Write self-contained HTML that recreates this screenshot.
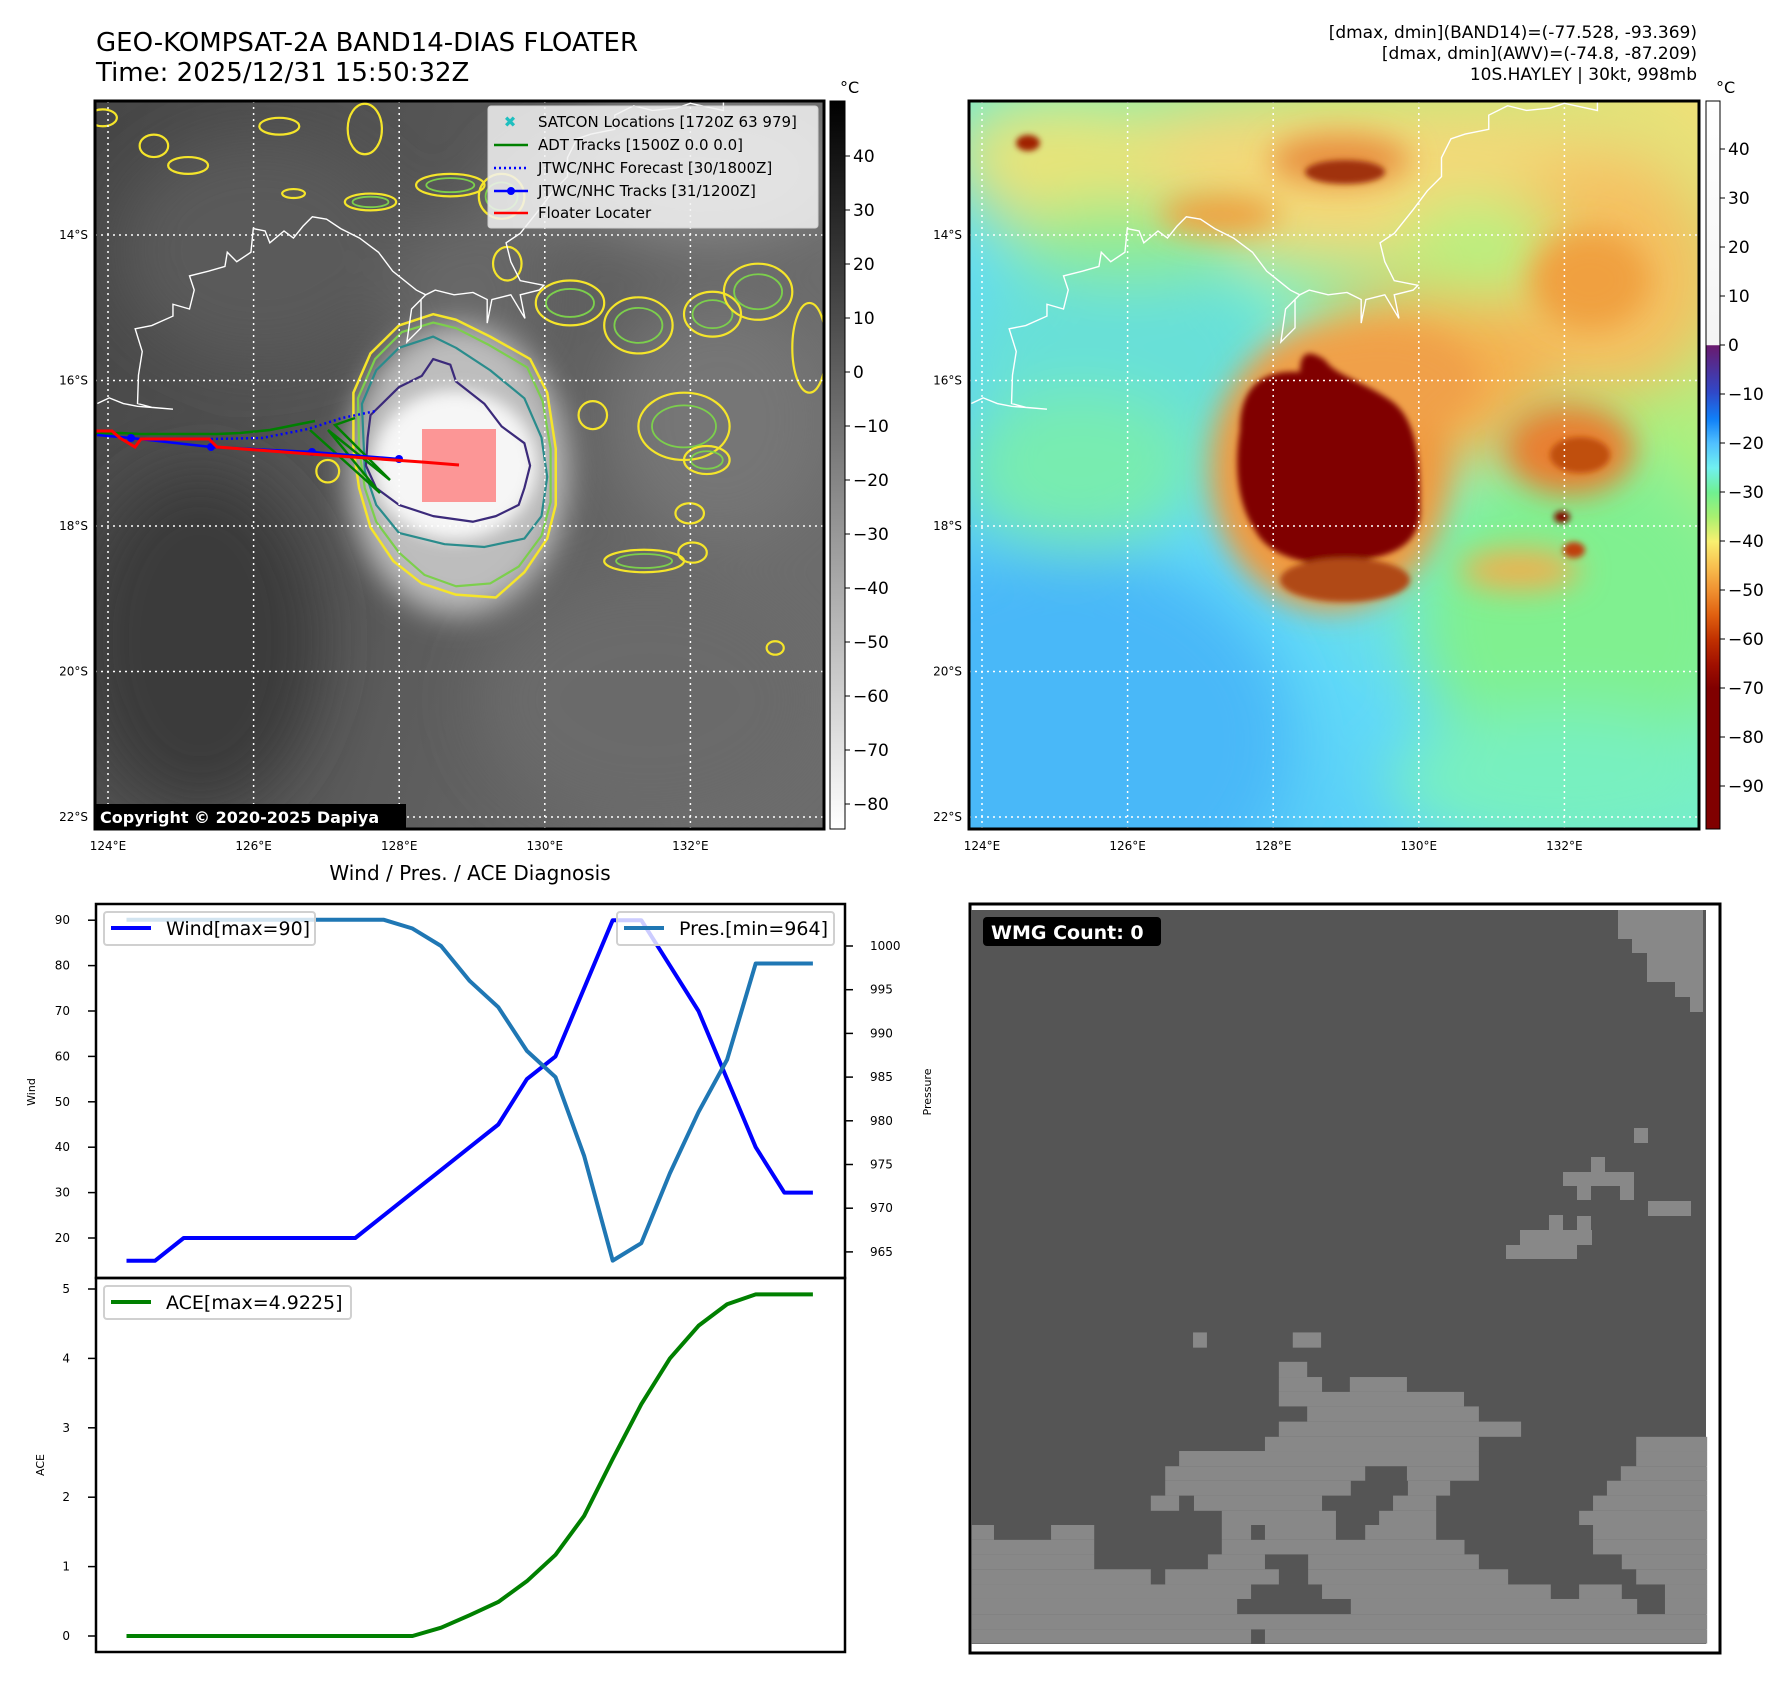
<!DOCTYPE html>
<html><head><meta charset="utf-8">
<style>
html,body{margin:0;padding:0;background:#fff;}
#root{position:relative;width:1788px;height:1690px;overflow:hidden;font-family:"DejaVu Sans","Liberation Sans",sans-serif;}
svg text{font-family:"DejaVu Sans","Liberation Sans",sans-serif;}
</style></head>
<body>
<div id="root">
<svg id="svg" width="1788" height="1690" viewBox="0 0 1788 1690" xmlns="http://www.w3.org/2000/svg">
<defs>
  <filter id="b30" x="-50%" y="-50%" width="200%" height="200%"><feGaussianBlur stdDeviation="30"/></filter>
  <filter id="b15" x="-50%" y="-50%" width="200%" height="200%"><feGaussianBlur stdDeviation="15"/></filter>
  <filter id="b8" x="-50%" y="-50%" width="200%" height="200%"><feGaussianBlur stdDeviation="8"/></filter>
  <filter id="b3" x="-50%" y="-50%" width="200%" height="200%"><feGaussianBlur stdDeviation="3"/></filter>
  <clipPath id="clip1"><rect x="95" y="101" width="729" height="728"/></clipPath>
  <clipPath id="clip2"><rect x="969" y="101" width="730" height="728"/></clipPath>
  <linearGradient id="g1base" x1="0" y1="0" x2="1" y2="0.3">
    <stop offset="0" stop-color="#464646"/><stop offset="0.5" stop-color="#575757"/><stop offset="1" stop-color="#6c6c6c"/>
  </linearGradient>
  <linearGradient id="cbar1" x1="0" y1="0" x2="0" y2="1">
    <stop offset="0" stop-color="#000"/><stop offset="1" stop-color="#fff"/>
  </linearGradient>
  <linearGradient id="cbar2" x1="0" y1="0" x2="0" y2="1">
    <stop offset="0" stop-color="#ffffff"/><stop offset="0.335" stop-color="#f4f4f4"/>
    <stop offset="0.336" stop-color="#6a1a6e"/><stop offset="0.40" stop-color="#3048c8"/>
    <stop offset="0.437" stop-color="#1080f8"/><stop offset="0.47" stop-color="#50c0ff"/>
    <stop offset="0.504" stop-color="#70f0f0"/><stop offset="0.538" stop-color="#70f090"/>
    <stop offset="0.571" stop-color="#a8f070"/><stop offset="0.605" stop-color="#f8f070"/>
    <stop offset="0.639" stop-color="#f8c050"/><stop offset="0.673" stop-color="#f09030"/>
    <stop offset="0.706" stop-color="#e06010"/><stop offset="0.74" stop-color="#c03000"/>
    <stop offset="0.774" stop-color="#a01000"/><stop offset="0.807" stop-color="#800000"/>
    <stop offset="1" stop-color="#800000"/>
  </linearGradient>
  <linearGradient id="g2base" x1="0" y1="1" x2="1" y2="0">
    <stop offset="0" stop-color="#48b8f8"/><stop offset="0.35" stop-color="#60d8f8"/>
    <stop offset="0.55" stop-color="#78f0c8"/><stop offset="0.75" stop-color="#a8f080"/>
    <stop offset="1" stop-color="#f0e078"/>
  </linearGradient>
</defs>

<text x="96" y="51" font-size="26" fill="#000">GEO-KOMPSAT-2A BAND14-DIAS FLOATER</text>
<text x="96" y="81" font-size="26" fill="#000">Time: 2025/12/31 15:50:32Z</text>
<g font-size="17" text-anchor="end" fill="#000">
  <text x="1697" y="38">[dmax, dmin](BAND14)=(-77.528, -93.369)</text>
  <text x="1697" y="59">[dmax, dmin](AWV)=(-74.8, -87.209)</text>
  <text x="1697" y="80">10S.HAYLEY | 30kt, 998mb</text>
</g>

<g clip-path="url(#clip1)">
  <rect x="95" y="101" width="729" height="728" fill="url(#g1base)"/>
  <g filter="url(#b30)">
    <ellipse cx="200" cy="640" rx="120" ry="170" fill="#3a3a3a"/>
    <ellipse cx="260" cy="250" rx="140" ry="110" fill="#5a5a5a"/>
    <ellipse cx="700" cy="170" rx="140" ry="70" fill="#8a8a8a"/>
    <ellipse cx="720" cy="420" rx="110" ry="120" fill="#767676"/>
    <ellipse cx="650" cy="700" rx="170" ry="120" fill="#6a6a6a"/>
    <ellipse cx="470" cy="300" rx="80" ry="90" fill="#686868"/>
    <ellipse cx="560" cy="190" rx="60" ry="40" fill="#7a7a7a"/>
  </g>
  <g filter="url(#b15)">
    <ellipse cx="458" cy="470" rx="110" ry="145" fill="#bdbdbd"/>
  </g>
  <g filter="url(#b8)">
    <ellipse cx="455" cy="465" rx="82" ry="75" fill="#f6f6f6"/>
  </g>
  <g id="contours1" fill="none" stroke-width="2.2"></g>
  <g id="coast1" fill="none" stroke="#fff" stroke-width="1.4"></g>
  <rect x="422" y="429" width="74" height="73" fill="#ff6e6e" opacity="0.7"/>
  <g id="grid1" stroke="#fff" stroke-width="1.5" stroke-dasharray="2,4"></g>
  <g id="tracks1"></g>
</g>
<rect x="95" y="101" width="729" height="728" fill="none" stroke="#000" stroke-width="3"/>
<g id="axlab1" font-size="12" fill="#000"></g>

<g>
  <rect x="488" y="106" width="330" height="122" rx="3" fill="#f2f2f2" fill-opacity="0.85" stroke="#d0d0d0"/>
  <text x="510" y="127" font-size="15" fill="#1fbfbf" font-weight="bold" text-anchor="middle">✖</text>
  <text x="538" y="127" font-size="15">SATCON Locations [1720Z 63 979]</text>
  <line x1="494" y1="145" x2="528" y2="145" stroke="#008000" stroke-width="2.5"/>
  <text x="538" y="150" font-size="15">ADT Tracks [1500Z 0.0 0.0]</text>
  <line x1="494" y1="168" x2="528" y2="168" stroke="#0000ff" stroke-width="2.5" stroke-dasharray="2,3"/>
  <text x="538" y="173" font-size="15">JTWC/NHC Forecast [30/1800Z]</text>
  <line x1="494" y1="191" x2="528" y2="191" stroke="#0000ff" stroke-width="2.5"/><circle cx="511" cy="191" r="4" fill="#0000ff"/>
  <text x="538" y="196" font-size="15">JTWC/NHC Tracks [31/1200Z]</text>
  <line x1="494" y1="213" x2="528" y2="213" stroke="#ff0000" stroke-width="2.5"/>
  <text x="538" y="218" font-size="15">Floater Locater</text>
</g>
<g>
  <rect x="96" y="804" width="310" height="25" fill="#000"/>
  <text x="100" y="823" font-size="16" font-weight="bold" fill="#fff">Copyright © 2020-2025 Dapiya</text>
</g>

<rect x="830" y="101" width="15" height="728" fill="url(#cbar1)" stroke="#000" stroke-width="1"/>
<text x="840" y="93" font-size="16">°C</text>
<g id="cb1ticks" font-size="17"></g>

<g clip-path="url(#clip2)">
  <rect x="969" y="101" width="730" height="728" fill="url(#g2base)"/>
  <g filter="url(#b30)">
    <ellipse cx="1060" cy="740" rx="230" ry="190" fill="#48b8f8"/>
    <ellipse cx="1120" cy="360" rx="160" ry="110" fill="#68e0d8"/>
    <ellipse cx="1080" cy="470" rx="120" ry="80" fill="#78ecb0"/>
    <ellipse cx="1580" cy="620" rx="160" ry="160" fill="#80f090"/>
    <ellipse cx="1560" cy="780" rx="170" ry="70" fill="#78f0c0"/>
    <ellipse cx="1330" cy="180" rx="360" ry="80" fill="#f4d878"/>
    <ellipse cx="1600" cy="280" rx="120" ry="120" fill="#f4c060"/>
    <ellipse cx="1060" cy="150" rx="110" ry="50" fill="#e8e478"/>
    <ellipse cx="1130" cy="240" rx="120" ry="40" fill="#90ec90"/>
    <ellipse cx="1420" cy="380" rx="130" ry="90" fill="#f4b050"/>
    <ellipse cx="1480" cy="250" rx="80" ry="50" fill="#b8f080"/>
  </g>
  <g filter="url(#b15)">
    <ellipse cx="1340" cy="160" rx="70" ry="25" fill="#e89040"/>
    <ellipse cx="1220" cy="215" rx="60" ry="20" fill="#f0a040"/>
    <ellipse cx="1590" cy="280" rx="60" ry="50" fill="#f0a040"/>
    <ellipse cx="1570" cy="450" rx="65" ry="45" fill="#e88030"/>
    <ellipse cx="1330" cy="470" rx="120" ry="140" fill="#f09a40"/>
    <ellipse cx="1380" cy="380" rx="100" ry="55" fill="#f0a048"/>
    <ellipse cx="1520" cy="570" rx="60" ry="20" fill="#f0b050"/>
  </g>
  <g filter="url(#b3)">
    <ellipse cx="1345" cy="172" rx="40" ry="12" fill="#a03010"/>
    <ellipse cx="1028" cy="143" rx="12" ry="8" fill="#a02000"/>
    <path d="M1240,430 C1240,380 1270,370 1300,372 C1300,350 1310,350 1325,360 C1335,375 1360,380 1390,400 C1420,420 1420,470 1420,510 C1420,540 1400,555 1360,560 C1320,570 1270,560 1255,530 C1235,500 1235,460 1240,430 Z" fill="#800000"/>
    <ellipse cx="1345" cy="580" rx="65" ry="22" fill="#b04818"/>
    <ellipse cx="1580" cy="455" rx="30" ry="18" fill="#c05010"/>
    <ellipse cx="1562" cy="517" rx="8" ry="6" fill="#801000"/>
    <ellipse cx="1574" cy="550" rx="11" ry="8" fill="#c04010"/>
  </g>
  <g id="coast2" fill="none" stroke="#fff" stroke-width="1.4"></g>
  <g id="grid2" stroke="#fff" stroke-width="1.5" stroke-dasharray="2,4"></g>
</g>
<rect x="969" y="101" width="730" height="728" fill="none" stroke="#000" stroke-width="3"/>
<g id="axlab2" font-size="12" fill="#000"></g>
<rect x="1706" y="101" width="14" height="728" fill="url(#cbar2)" stroke="#000" stroke-width="1"/>
<text x="1716" y="93" font-size="16">°C</text>
<g id="cb2ticks" font-size="17"></g>

<text x="470" y="880" font-size="20" text-anchor="middle">Wind / Pres. / ACE Diagnosis</text>
<g id="chart"></g>

<g>
  <rect x="970" y="904" width="750" height="749" fill="#fff" stroke="#000" stroke-width="3"/>
  <rect x="971" y="910" width="735" height="734" fill="#555555"/>
  <g id="wmg" fill="#888888"></g>
  <rect x="983" y="917" width="178" height="29" rx="4" fill="#000"/>
  <text x="991" y="939" font-size="19" font-weight="bold" fill="#fff">WMG Count: 0</text>
</g>
</svg>
</div>

<script>
const windValues = [15,15,20,20,20,20,20,20,20,25,30,35,40,45,55,60,75,90,90,80,70,55,40,30,30];
const presValues = [1003,1003,1003,1003,1003,1003,1003,1003,1003,1003,1002,1000,996,993,988,985,976,964,966,974,981,987,998,998,998];
const aceValues = [0,0,0,0,0,0,0,0,0,0,0,0.12,0.3,0.49,0.79,1.17,1.73,2.55,3.34,4.0,4.47,4.78,4.9225,4.9225,4.9225];
const windTicks = [20,30,40,50,60,70,80,90];
const presTicks = [965,970,975,980,985,990,995,1000];
const aceTicks = [0,1,2,3,4,5];
const cb1Ticks = [40,30,20,10,0,-10,-20,-30,-40,-50,-60,-70,-80];
const cb2Ticks = [40,30,20,10,0,-10,-20,-30,-40,-50,-60,-70,-80,-90];
const latTicks = [14,16,18,20,22];
const lonTicks = [124,126,128,130,132];

const NS='http://www.w3.org/2000/svg';
function mk(tag, attrs, parent){const e=document.createElementNS(NS,tag);for(const k in attrs)e.setAttribute(k,attrs[k]);parent.appendChild(e);return e;}

const xIdx = i => 126.5 + i*28.6;
const yWind = v => 1238 - (v-20)*4.54;
const yPres = v => 946 - (v-1000)*8.74;
const yAce = v => 1636 - v*69.4;
const yCb1 = v => 156 + (40-v)*5.4;
const yCb2 = v => 345 - v*4.9;
const latY = l => 235 + (l-14)*72.75;
const lonX = l => 108 + (l-124)*72.8;

const chart=document.getElementById('chart');
let f1=mk('rect',{x:96,y:904,width:749,height:374,fill:'none',stroke:'#000','stroke-width':2.5},chart);


let f2=mk('rect',{x:96,y:1278,width:749,height:374,fill:'none',stroke:'#000','stroke-width':2.5},chart);



windTicks.forEach(v=>{
  const y=yWind(v);
  mk('line',{x1:88,x2:96,y1:y,y2:y,stroke:'#000','stroke-width':1.5},chart);
  const t=mk('text',{x:70,y:y+4,'font-size':12,'text-anchor':'end'},chart);t.textContent=v;
  
  
});
presTicks.forEach(v=>{
  const y=yPres(v);
  mk('line',{x1:845,x2:853,y1:y,y2:y,stroke:'#000','stroke-width':1.5},chart);
  const t=mk('text',{x:870,y:y+4,'font-size':12},chart);t.textContent=v;
  
  
});
aceTicks.forEach(v=>{
  const y=yAce(v);
  mk('line',{x1:88,x2:96,y1:y,y2:y,stroke:'#000','stroke-width':1.5},chart);
  const t=mk('text',{x:70,y:y+4,'font-size':12,'text-anchor':'end'},chart);t.textContent=v;
  
  
});
let yl=mk('text',{x:0,y:0,'font-size':11,'text-anchor':'middle',transform:'translate(35,1092) rotate(-90)'},chart);yl.textContent='Wind';


yl=mk('text',{x:0,y:0,'font-size':11,'text-anchor':'middle',transform:'translate(931,1092) rotate(-90)'},chart);yl.textContent='Pressure';


yl=mk('text',{x:0,y:0,'font-size':11,'text-anchor':'middle',transform:'translate(44,1465) rotate(-90)'},chart);yl.textContent='ACE';



function series(vals, yf, color, name){
  const p=mk('polyline',{points:vals.map((v,i)=>xIdx(i)+','+yf(v)).join(' '),fill:'none',stroke:color,'stroke-width':4,'stroke-linejoin':'round'},chart);
  
  
}
series(windValues,yWind,'#0000ff','wind-line');
series(presValues,yPres,'#1f77b4','pressure-line');
series(aceValues,yAce,'#008000','ace-line');

function legend(x,y,w,color,label,name){
  const g=mk('g',{},chart);
  
  
  mk('rect',{x:x,y:y,width:w,height:33,rx:3,fill:'#fff','fill-opacity':0.8,stroke:'#d0d0d0','stroke-width':2},g);
  mk('line',{x1:x+7,x2:x+47,y1:y+16,y2:y+16,stroke:color,'stroke-width':4},g);
  const t=mk('text',{x:x+62,y:y+23,'font-size':19},g);t.textContent=label;
}
legend(104,912,211,'#0000ff','Wind[max=90]','wind-legend');
legend(617,912,217,'#1f77b4','Pres.[min=964]','pressure-legend');
legend(104,1286,247,'#008000','ACE[max=4.9225]','ace-legend');

const cb1=document.getElementById('cb1ticks');
cb1Ticks.forEach(v=>{const y=yCb1(v);
  mk('line',{x1:845,x2:850,y1:y,y2:y,stroke:'#000'},cb1);
  const t=mk('text',{x:853,y:y+6},cb1);t.textContent=(v<0?'\u2212'+(-v):v);
  
  });
const cb2=document.getElementById('cb2ticks');
cb2Ticks.forEach(v=>{const y=yCb2(v);
  mk('line',{x1:1720,x2:1725,y1:y,y2:y,stroke:'#000'},cb2);
  const t=mk('text',{x:1728,y:y+6},cb2);t.textContent=(v<0?'\u2212'+(-v):v);
  
  });

[[0,'grid1','axlab1'],[874,'grid2','axlab2']].forEach(([dx,gid,lid])=>{
  const g=document.getElementById(gid), l=document.getElementById(lid);
  latTicks.forEach(lat=>{const y=latY(lat);
    mk('line',{x1:95+dx,x2:824+dx+1,y1:y,y2:y},g);
    const t=mk('text',{x:88+dx,y:y+4,'text-anchor':'end'},l);t.textContent=lat+'°S';
    
    });
  lonTicks.forEach(lon=>{const x=lonX(lon)+dx;
    mk('line',{x1:x,x2:x,y1:101,y2:829},g);
    const t=mk('text',{x:x,y:850,'text-anchor':'middle'},l);t.textContent=lon+'°E';
    
    });
});

const coastZ=[[5,640],[30,628],[60,640],[90,646],[165,652],[120,648],[90,640],[92,580],[100,530],[85,482],[120,475],[165,455],[165,430],[200,440],[210,400],[200,370],[240,360],[275,350],[280,320],[300,340],[330,320],[335,270],[360,275],[370,300],[400,275],[420,290],[440,265],[460,245],[490,250],[520,270],[560,290],[600,320],[630,360],[680,400],[700,410],[720,400],[760,410],[800,405],[830,420],[830,470],[840,420],[880,410],[910,460],[900,410],[940,400],[950,390],[900,380],[880,340],[870,300],[900,280],[940,230],[970,190],[1000,160],[1000,120],[1020,80],[1050,70],[1100,60],[1100,30],[1140,10],[1180,20],[1230,15],[1260,5],[1330,20],[1330,0]];
const branchZ=[[700,410],[670,440],[660,510],[690,480],[690,420]];
[['coast1',95],['coast2',969]].forEach(([id,ox])=>{
  const g=document.getElementById(id);
  [coastZ,branchZ].forEach(arr=>{
    mk('polyline',{points:arr.map(p=>(ox+p[0]*0.4725)+','+(101+p[1]*0.4727)).join(' ')},g);
  });
});

const cs=document.getElementById('contours1');
function cpath(pts,color,w){
  const d='M'+pts.map(p=>(p[0]*0.570)+','+(p[1]*0.561)).join(' L')+' Z';
  mk('path',{d:d,stroke:color,'stroke-width':w||2.2,fill:'none','stroke-linejoin':'round'},cs);
}
cpath([[620,700],[650,630],[700,580],[760,560],[800,570],[860,600],[930,640],[960,700],[975,800],[975,900],[960,960],[920,1020],[870,1065],[800,1060],[740,1040],[690,1000],[650,940],[630,870],[620,800]],'#f5e52a',2.5);
cpath([[628,710],[658,640],[705,592],[760,575],[800,585],[858,615],[925,655],[952,715],[966,800],[966,895],[950,955],[910,1010],[860,1040],[800,1045],[745,1025],[700,985],[660,930],[640,870],[630,800]],'#7ccf4c');
cpath([[635,720],[660,660],[700,620],[760,600],[800,620],[860,660],[920,710],[950,780],[960,850],[950,920],[920,960],[850,975],[780,970],[700,950],[660,900],[640,840]],'#2a8c8c');
cpath([[650,740],[700,690],[740,670],[760,640],[790,650],[800,680],[850,720],[880,760],[920,790],[930,830],[920,870],[910,900],[870,920],[830,930],[760,920],[700,900],[660,870],[642,830],[645,780]],'#3b2a7a');
const blobs=[[180,210,25,15],[270,260,25,20],[330,295,35,15],[490,225,35,15],[515,345,20,8],[640,230,30,45],[790,330,60,20],[650,360,45,15],[880,350,40,40],[1000,540,60,40],[1120,580,60,50],[1250,560,50,40],[1330,520,60,50],[1420,620,30,80],[1200,760,80,60],[1240,820,40,25],[1210,915,25,18],[1215,985,25,18],[1130,1000,70,20],[575,840,20,20],[1360,1155,15,12],[890,470,25,30],[1040,740,25,25]];
blobs.forEach(b=>{
  mk('ellipse',{cx:b[0]*0.570,cy:b[1]*0.561,rx:b[2]*0.570,ry:b[3]*0.561,stroke:'#f5e52a','stroke-width':2.2,fill:'none'},cs);
  if(b[2]>35) mk('ellipse',{cx:b[0]*0.570,cy:b[1]*0.561,rx:b[2]*0.4,ry:b[3]*0.35,stroke:'#7ccf4c','stroke-width':1.8,fill:'none'},cs);
});

const tr=document.getElementById('tracks1');
mk('polyline',{points:'96,434 120,433 140,434 205,434 217,434 240,433 270,430 295,425 315,421',fill:'none',stroke:'#008000','stroke-width':2.5},tr);
mk('polyline',{points:'310,430 380,493 328,430 390,480 335,425 355,418',fill:'none',stroke:'#008000','stroke-width':2.5},tr);
mk('polyline',{points:'211,439 262,438 308,429 342,418 376,411',fill:'none',stroke:'#0000ff','stroke-width':2.5,'stroke-dasharray':'2,3'},tr);
mk('polyline',{points:'97,435 131,438 211,447 312,452 399,459',fill:'none',stroke:'#0000ff','stroke-width':2.5},tr);
[[131,438],[211,447],[312,452],[399,459]].forEach(p=>mk('circle',{cx:p[0],cy:p[1],r:4,fill:'#0000ff'},tr));
mk('polyline',{points:'96,431 112,431 120,438 135,447 141,439 209,439 217,447 310,454 422,462 459,465',fill:'none',stroke:'#ff0000','stroke-width':3},tr);

const wmg=document.getElementById('wmg');
const rows=[[96,141,[[465,494],[673,732]]],[183,228,[[644,703]]],[228,272,[[644,734],[792,911]]],[272,315,[[644,1030]]],[315,360,[[703,1061]]],[360,405,[[644,1149]]],[405,447,[[615,1061],[1389,1537]]],[447,492,[[436,1061],[1389,1537]]],[492,535,[[407,824],[911,1061],[1357,1537]]],[535,579,[[407,794],[913,1001],[1328,1537]]],[579,624,[[377,436],[467,734],[882,972],[1299,1537]]],[624,666,[[525,763],[853,972],[1270,1537]]],[666,710,[[4,50],[169,259],[525,586],[615,763],[824,972],[1299,1537]]],[710,753,[[4,259],[525,1031],[1299,1537]]],[753,797,[[4,259],[496,615],[705,1061],[1359,1537]]],[797,842,[[4,377],[407,644],[705,1122],[1389,1537]]],[842,885,[[4,586],[734,1211],[1270,1359],[1449,1537]]],[885,930,[[4,557],[794,1391],[1449,1537]]],[930,975,[[4,1537]]],[975,1017,[[4,586],[615,1537]]]];
rows.forEach(r=>{
  const y0=1300+r[0]/2.96, y1=1300+r[1]/2.96;
  r[2].forEach(s=>{const x0=970+s[0]/2.085, x1=970+s[1]/2.085;
    mk('rect',{x:x0,y:y0,width:x1-x0,height:y1-y0},wmg);});
});
const topCells=[[1618,910,85,29],[1632,939,71,14],[1647,953,56,29],[1675,982,28,15],[1690,997,13,15],[1634,1128,14,15],[1591,1157,14,15],[1563,1172,71,14],[1577,1186,14,14],[1620,1186,14,14],[1648,1201,43,15],[1549,1215,14,15],[1577,1216,14,14],[1520,1230,72,15],[1506,1245,71,14]];
topCells.forEach(t=>mk('rect',{x:t[0],y:t[1],width:t[2],height:t[3]},wmg));
</script>
</body></html>
